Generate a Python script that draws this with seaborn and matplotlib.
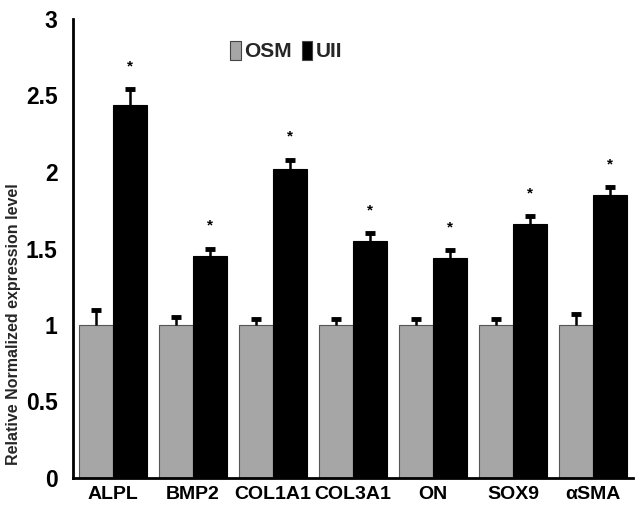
import numpy as np
import pandas as pd
import matplotlib
matplotlib.use("Agg")
import matplotlib.pyplot as plt
import seaborn as sns

genes = ["ALPL", "BMP2", "COL1A1", "COL3A1", "ON", "SOX9", "αSMA"]
groups = ["OSM", "UII"]
osm_mean = [1.0, 1.0, 1.0, 1.0, 1.0, 1.0, 1.0]
osm_err = [0.10, 0.05, 0.04, 0.04, 0.04, 0.04, 0.07]
uii_mean = [2.44, 1.45, 2.02, 1.55, 1.44, 1.66, 1.85]
uii_err = [0.10, 0.05, 0.06, 0.05, 0.05, 0.05, 0.05]
yticks = [0, 0.5, 1, 1.5, 2, 2.5, 3]
ytick_labels = ["0", "0.5", "1", "1.5", "2", "2.5", "3"]

sns.set_theme(style="white")
plt.rcParams["font.family"] = ["Liberation Sans Narrow", "Liberation Sans", "DejaVu Sans"]
plt.rcParams["font.weight"] = "bold"

df = pd.DataFrame({
    "gene": genes * 2,
    "group": ["OSM"] * len(genes) + ["UII"] * len(genes),
    "value": osm_mean + uii_mean,
})

fig = plt.figure(figsize=(6.36, 5.31), dpi=100)
ax = fig.add_axes([73 / 636, 53 / 531, 560 / 636, 459 / 531])

sns.barplot(data=df, x="gene", y="value", hue="group", order=genes,
            hue_order=groups, palette=["#a6a6a6", "#000000"], width=0.85,
            errorbar=None, saturation=1, ax=ax)

means = [osm_mean, uii_mean]
errs = [osm_err, uii_err]
edges = ["#555555", "#000000"]
bar_conts = list(ax.containers)
for k, cont in enumerate(bar_conts):
    xs = [p.get_x() + p.get_width() / 2 for p in cont.patches]
    for p in cont.patches:
        p.set_edgecolor(edges[k])
        p.set_linewidth(0.8)
    # only the upper half of the error bar is shown
    _, caps, _ = ax.errorbar(xs, means[k], yerr=[np.zeros(len(xs)), errs[k]], fmt="none",
                             ecolor="black", elinewidth=1.8, capsize=3.3, capthick=3.5)
    caps[0].set_visible(False)
    if k == 1:
        for x, m, e in zip(xs, means[k], errs[k]):
            ax.text(x, m + e + 0.15, "*", ha="center", va="center",
                    fontsize=11, color="black")

ax.set_xlim(-0.5, len(genes) - 0.5)
ax.set_ylim(0, 3)
ax.set_yticks(yticks)
ax.set_yticklabels(ytick_labels, fontsize=16.5, fontweight="bold")
ax.set_xticks(range(len(genes)))
ax.set_xticklabels(genes, fontsize=14, fontweight="bold")
ax.set_xticks(np.arange(-0.5, len(genes)), minor=True)
ax.tick_params(axis="x", which="major", length=0, pad=6, colors="black")
ax.tick_params(axis="x", which="minor", length=6, width=2, direction="out", color="black")
ax.tick_params(axis="y", length=6, width=2, direction="out", color="black", pad=5, colors="black")

for s in ["top", "right"]:
    ax.spines[s].set_visible(False)
for s in ["left", "bottom"]:
    ax.spines[s].set_linewidth(2)
    ax.spines[s].set_color("black")

ax.set_xlabel("")
ax.set_ylabel("Relative Normalized expression level", fontsize=11.5, fontweight="bold",
              family=["Liberation Sans", "DejaVu Sans"])
ax.yaxis.set_label_coords(-0.093, 0.335)

ax.legend(loc="upper left", bbox_to_anchor=(0.262, 0.975), ncol=2, frameon=False,
          borderpad=0, handlelength=0.5, handleheight=1.0, handletextpad=0.15,
          columnspacing=0.5, prop={"weight": "bold", "size": 15})
for h in ax.get_legend().legend_handles:
    h.set_edgecolor("#444444")
    h.set_linewidth(0.8)

fig.savefig("out.png", dpi=100)
